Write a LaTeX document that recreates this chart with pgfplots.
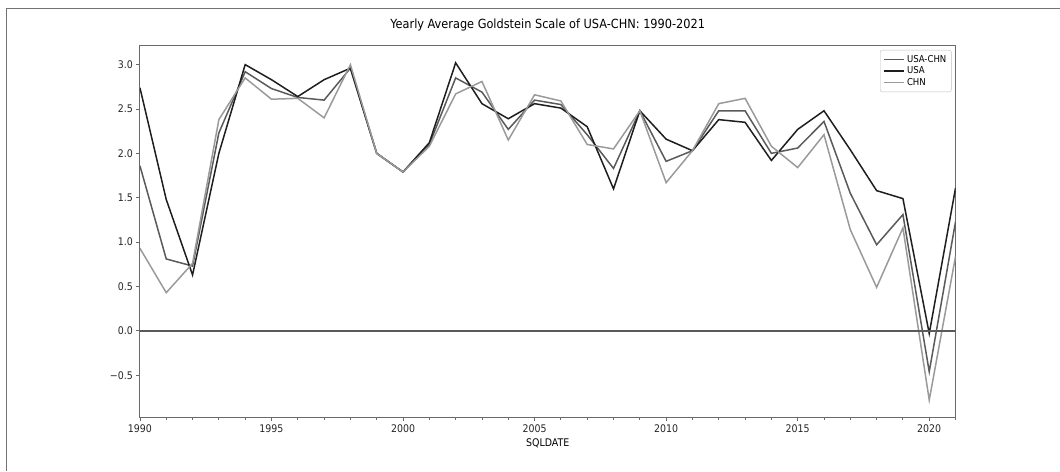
\documentclass[border=0pt]{standalone}
\usepackage{pgfplots}
\pgfplotsset{compat=1.18}
\usepackage{fontspec}
\setmainfont{DejaVu Sans Condensed}
\definecolor{cUC}{HTML}{5A5A5A}
\definecolor{cUS}{HTML}{1E1E1E}
\definecolor{cCN}{HTML}{9A9A9A}
\definecolor{cAx}{HTML}{6A6A6A}
\pgfplotstableread{
year uc us cn
1990 1.86 2.74 0.93
1991 0.81 1.48 0.43
1992 0.73 0.63 0.76
1993 2.23 2.00 2.38
1994 2.92 3.00 2.85
1995 2.73 2.83 2.61
1996 2.63 2.64 2.62
1997 2.60 2.83 2.40
1998 2.96 2.96 3.00
1999 2.00 2.00 2.00
2000 1.79 1.79 1.79
2001 2.10 2.12 2.08
2002 2.85 3.02 2.67
2003 2.69 2.56 2.81
2004 2.27 2.39 2.15
2005 2.60 2.56 2.66
2006 2.55 2.51 2.59
2007 2.21 2.30 2.10
2008 1.83 1.60 2.05
2009 2.48 2.48 2.48
2010 1.91 2.16 1.67
2011 2.03 2.03 2.03
2012 2.48 2.38 2.56
2013 2.48 2.35 2.62
2014 2.00 1.92 2.08
2015 2.06 2.27 1.84
2016 2.36 2.48 2.21
2017 1.55 2.04 1.14
2018 0.97 1.58 0.49
2019 1.31 1.49 1.16
2020 -0.46 -0.03 -0.78
2021 1.23 1.61 0.84
}\data
\begin{document}
\begin{tikzpicture}[x=1pt,y=1pt]
\begin{axis}[
  at={(0pt,0pt)}, anchor=south west,
  scale only axis, width=816pt, height=372pt,
  xmin=1990, xmax=2021, ymin=-0.98, ymax=3.21,
  axis line style={cAx, line width=1pt},
  xtick={1990,1995,2000,2005,2010,2015,2020},
  minor xtick={1990,...,2021},
  ytick={-0.5,0,0.5,1,1.5,2,2.5,3},
  yticklabels={−0.5,0.0,0.5,1.0,1.5,2.0,2.5,3.0},
  x tick label style={/pgf/number format/1000 sep={}},
  /pgf/number format/assume math mode=true,
  tick label style={font=\fontsize{10.5}{12}\selectfont, text=black!85},
  tick align=outside, tick pos=left,
  major tick length=3.5pt, minor tick length=2pt,
  tick style={cAx, line width=0.8pt},
  xlabel={SQLDATE}, xlabel style={font=\fontsize{10.5}{12}\selectfont, yshift=1pt},
  title={Yearly Average Goldstein Scale of USA-CHN: 1990-2021},
  title style={font=\fontsize{12.6}{14}\selectfont, yshift=5pt},
  legend style={at={(1,1)}, anchor=north east, xshift=-4pt, yshift=-4pt,
    draw=black!25, rounded corners=2pt, font=\fontsize{9.5}{11}\selectfont,
    inner sep=3pt, row sep=-1pt},
  legend image code/.code={\draw[#1, line width=1.8pt] (0pt,0pt) -- (20pt,0pt);},
  legend cell align=left,
  clip=true,
]
\addplot[cUC, line width=1.5pt] table[x=year,y=uc]{\data};
\addlegendentry{USA-CHN}
\addplot[cUS, line width=1.5pt] table[x=year,y=us]{\data};
\addlegendentry{USA}
\addplot[cCN, line width=1.5pt] table[x=year,y=cn]{\data};
\addlegendentry{CHN}
\addplot[cUC, line width=1.8pt, forget plot] coordinates {(1990,0) (2021,0)};
\end{axis}
\draw[black!55, line width=1pt] (-133,-53) -- (-133,409) -- (920,409);
\path (-140,-53) rectangle (920,418);
\end{tikzpicture}
\end{document}
